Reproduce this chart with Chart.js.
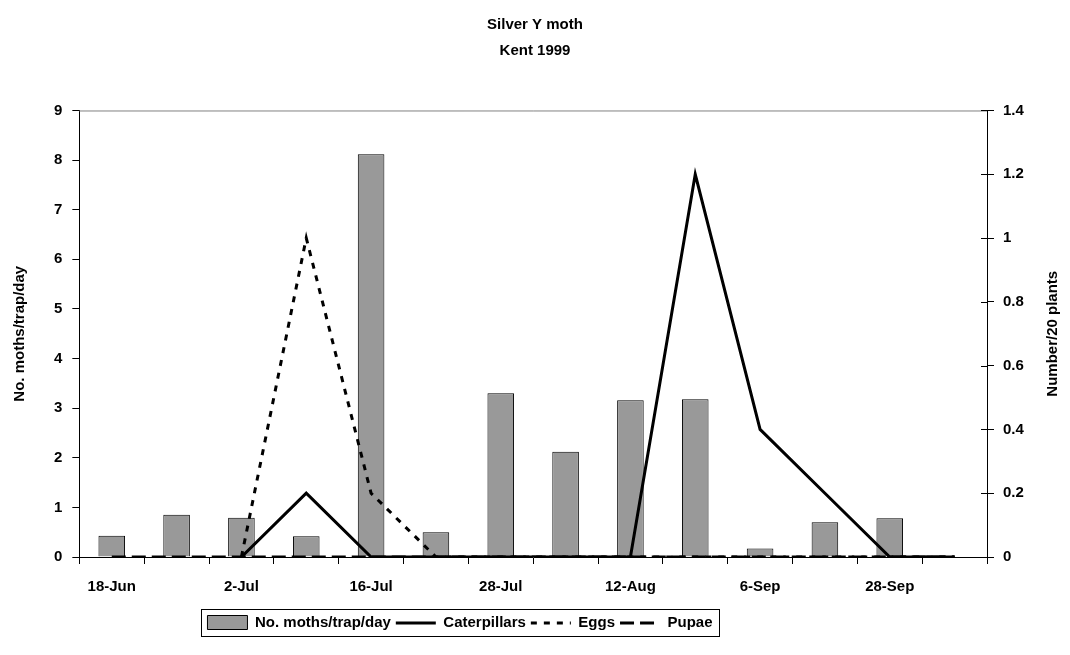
<!DOCTYPE html>
<html>
<head>
<meta charset="utf-8">
<script src="https://cdn.jsdelivr.net/npm/chart.js@4/dist/chart.umd.min.js"></script>
<style>
  body { margin: 0; background: #fff; }
  #wrap { width: 1070px; height: 655px; }
</style>
</head>
<body>
<div id="wrap"><canvas id="placeholder"></canvas></div>
<script>
// categories (only every other one is labelled on the axis)
const categories = ['18-Jun', '25-Jun', '2-Jul', '9-Jul', '16-Jul', '22-Jul', '28-Jul',
                    '5-Aug', '12-Aug', '24-Aug', '6-Sep', '17-Sep', '28-Sep', '10-Oct'];
const moths = [0.43, 0.85, 0.79, 0.42, 8.12, 0.5, 3.3, 2.12, 3.16, 3.18, 0.17, 0.7, 0.78, null];
const caterpillars = [null, null, 0, 0.2, 0, 0, 0, 0, 0, 1.2, 0.4, 0.2, 0, 0];
const eggs = [null, null, 0, 1.0, 0.2, 0, 0, 0, 0, 0, 0, 0, 0, 0];
const pupae = [0, 0, 0, 0, 0, 0, 0, 0, 0, 0, 0, 0, 0, 0];

const FONT = '"Liberation Sans", Arial, sans-serif';
Chart.defaults.font.family = FONT;
Chart.defaults.font.size = 15;
Chart.defaults.font.weight = 'bold';
Chart.defaults.color = '#000';

const ctx = document.getElementById('placeholder');

// legend sits left of centre in the original
const LEGEND_SHIFT = -75;
const KEY_W = 40;

// extra drawing: plot frame top line, right-axis inner ticks, right title, legend frame + line keys
const extras = {
    id: 'extras',
    afterUpdate(chart) {
        const lg = chart.legend;
        lg.left += LEGEND_SHIFT;
        lg.right += LEGEND_SHIFT;
        lg.legendHitBoxes.forEach((hb) => { hb.left += LEGEND_SHIFT; });
    },
    afterDraw(chart) {
        const c = chart.ctx;
        const area = chart.chartArea;
        const y1 = chart.scales.y1;
        c.save();
        c.strokeStyle = '#808080';
        c.lineWidth = 1;
        c.beginPath();
        c.moveTo(area.left, area.top + 0.5);
        c.lineTo(area.right, area.top + 0.5);
        c.stroke();

        c.strokeStyle = '#000';
        y1.ticks.forEach((t, i) => {
            const py = Math.round(y1.getPixelForTick(i)) + 0.5;
            c.beginPath();
            c.moveTo(area.right - 6, py);
            c.lineTo(area.right, py);
            c.stroke();
        });

        c.translate(y1.left + 66, (area.top + area.bottom) / 2);
        c.rotate(-Math.PI / 2);
        c.font = 'bold 15px ' + FONT;
        c.fillStyle = '#000';
        c.textAlign = 'center';
        c.textBaseline = 'middle';
        c.fillText('Number/20 plants', 0, 0);
        c.restore();

        const legend = chart.legend;
        const boxes = legend.legendHitBoxes;
        if (boxes && boxes.length) {
            c.save();
            legend.legendItems.forEach((item, i) => {
                const ds = chart.data.datasets[item.datasetIndex];
                if (ds.type !== 'line') return;
                const hb = boxes[i];
                const ly = Math.round(hb.top + hb.height / 2);
                c.strokeStyle = '#000';
                c.lineWidth = ds.borderWidth;
                c.setLineDash(ds.borderDash || []);
                c.beginPath();
                c.moveTo(hb.left, ly);
                c.lineTo(hb.left + KEY_W, ly);
                c.stroke();
            });
            c.setLineDash([]);
            const first = boxes[0];
            const last = boxes[boxes.length - 1];
            c.strokeStyle = '#000';
            c.lineWidth = 1;
            const x0 = Math.round(first.left - 6) + 0.5;
            const x1 = Math.round(last.left + last.width + 6) + 0.5;
            const top = Math.round(first.top - 6) + 0.5;
            const bottom = Math.round(first.top + first.height + 6) + 0.5;
            c.strokeRect(x0, top, x1 - x0, bottom - top);
            c.restore();
        }
    }
};

const data = {
    labels: categories,
    datasets: [
        {
            type: 'bar',
            label: 'No. moths/trap/day',
            data: moths,
            yAxisID: 'y',
            backgroundColor: '#999999',
            borderColor: '#000',
            borderWidth: 1,
            categoryPercentage: 1,
            barPercentage: 0.41,
            pointStyle: 'rect',
            order: 10
        },
        {
            type: 'line',
            label: 'Caterpillars',
            data: caterpillars,
            yAxisID: 'y1',
            borderColor: '#000',
            borderWidth: 3,
            pointRadius: 0,
            pointStyle: 'line',
            order: 1
        },
        {
            type: 'line',
            label: 'Eggs',
            data: eggs,
            yAxisID: 'y1',
            borderColor: '#000',
            borderWidth: 3,
            borderDash: [6, 7],
            pointRadius: 0,
            pointStyle: 'line',
            order: 2
        },
        {
            type: 'line',
            label: 'Pupae',
            data: pupae,
            yAxisID: 'y1',
            borderColor: '#000',
            borderWidth: 3,
            borderDash: [14, 6],
            pointRadius: 0,
            pointStyle: 'line',
            order: 3
        }
    ]
};

const config = {
    data: data,
    options: {
        responsive: true,
        maintainAspectRatio: false,
        animation: false,
        layout: { padding: { left: 0, right: 0, top: 0, bottom: 15 } },
        plugins: {
            title: {
                display: true,
                text: ['Silver Y moth', 'Kent 1999'],
                font: { size: 15, weight: 'bold', lineHeight: 1.733 },
                padding: { top: 11.5, bottom: 47 }
            },
            legend: {
                position: 'bottom',
                labels: {
                    usePointStyle: true,
                    pointStyleWidth: KEY_W,
                    boxHeight: 14,
                    padding: 5,
                    font: { size: 15, weight: 'bold' },
                    sort: (a, b) => a.datasetIndex - b.datasetIndex,
                    generateLabels: (chart) => {
                        const items = Chart.defaults.plugins.legend.labels.generateLabels(chart);
                        items.forEach((it) => {
                            if (chart.data.datasets[it.datasetIndex].type === 'line') {
                                it.strokeStyle = 'rgba(0,0,0,0)';
                            }
                        });
                        return items;
                    }
                }
            },
            tooltip: { enabled: false }
        },
        scales: {
            x: {
                type: 'category',
                offset: true,
                grid: { offset: true, drawOnChartArea: false, drawTicks: true, tickLength: 7, color: '#000' },
                border: { display: true, color: '#000' },
                ticks: {
                    autoSkip: false,
                    maxRotation: 0,
                    padding: 14,
                    callback: function (value, index) {
                        return index % 2 === 0 ? this.getLabelForValue(value) : '';
                    }
                }
            },
            y: {
                position: 'left',
                min: 0,
                max: 9,
                ticks: { stepSize: 1, padding: 10 },
                grid: { drawOnChartArea: false, drawTicks: true, tickLength: 7, color: '#000' },
                border: { display: true, color: '#000' },
                title: {
                    display: true,
                    text: 'No. moths/trap/day',
                    font: { size: 15, weight: 'bold' },
                    padding: { top: 11, bottom: 15 }
                }
            },
            y1: {
                position: 'right',
                min: 0,
                max: 1.4,
                ticks: {
                    stepSize: 0.2,
                    padding: 9,
                    callback: (v) => String(Math.round(v * 10) / 10)
                },
                grid: { drawOnChartArea: false, drawTicks: true, tickLength: 7, color: '#000' },
                border: { display: true, color: '#000' },
                afterFit: (scale) => { scale.width = 83; }
            }
        }
    },
    plugins: [extras]
};

const mothChart = new Chart(ctx, config);
</script>
</body>
</html>
